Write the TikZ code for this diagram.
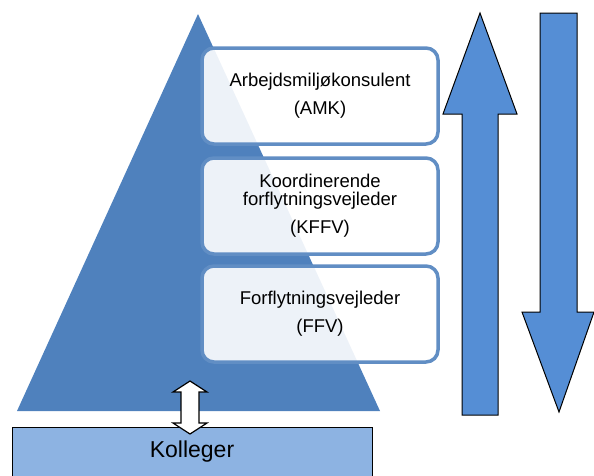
\documentclass[tikz,border=0pt]{standalone}
\usepackage{fontspec}
\setmainfont{Liberation Sans}
\definecolor{pyr}{HTML}{4F81BD}
\definecolor{arr}{HTML}{558ED5}
\definecolor{kol}{HTML}{8DB3E2}
\begin{document}
\begin{tikzpicture}[x=1pt,y=-1pt,
  rolebox/.style={draw=pyr!90!white, line width=3.5pt, rounded corners=12pt, fill=white, fill opacity=0.9, text opacity=1,
    minimum width=236pt, minimum height=96pt, align=center, font=\fontsize{18.5}{24}\selectfont, inner sep=0pt},
  bigarrow/.style={draw=black, line width=1pt, fill=arr, line join=miter},
  smallarrow/.style={draw=black, line width=1.2pt, fill=white, line join=miter}]
\useasboundingbox (0,0) rectangle (594,475);
% pyramid
\fill[pyr] (198,14) -- (380,411) -- (17,411) -- cycle;
% role boxes
\node[rolebox] (amk) at (320,96) {Arbejdsmiljøkonsulent\\[4pt](AMK)};
\node[rolebox] (kffv) at (320,206) {Koordinerende\\[-6pt]forflytningsvejleder\\[4pt](KFFV)};
\node[rolebox] (ffv) at (320,314) {Forflytningsvejleder\\[4pt](FFV)};
% up arrow
\draw[bigarrow] (480,13) -- (517,114) -- (498,114) -- (498,415) -- (462,415) -- (462,114) -- (443,114) -- cycle;
% down arrow
\draw[bigarrow] (540,13) -- (577,13) -- (577,312) -- (594,312) -- (559,412) -- (522,312) -- (540,312) -- cycle;
% Kolleger box
\node[draw=black, line width=1pt, fill=kol, minimum width=360pt, minimum height=60pt, anchor=north west,
  font=\fontsize{23}{28}\selectfont, inner sep=0pt] (kol) at (12,427) {};
\node[font=\fontsize{23}{28}\selectfont] (koltext) at (192,452) {Kolleger};
% double arrow
\draw[smallarrow] (190,381) -- (207,392) -- (199,392) -- (199,423) -- (207,423) -- (190,434) -- (173,423) -- (181,423) -- (181,392) -- (173,392) -- cycle;
\end{tikzpicture}
\end{document}
